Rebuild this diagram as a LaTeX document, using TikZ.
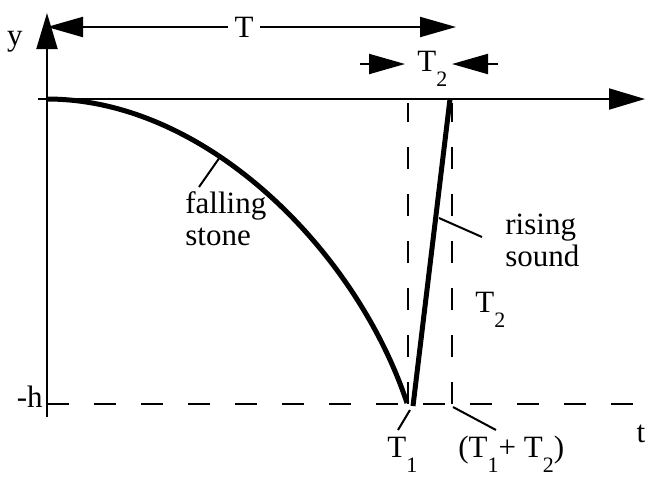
\documentclass[tikz,border=0pt]{standalone}
\usepackage{fontspec}
\setmainfont{Liberation Serif}
\usetikzlibrary{arrows.meta}
\newcommand{\lowsub}[1]{\raisebox{-7.5pt}{\fontsize{11}{11}\selectfont #1}}
\tikzset{
  axisline/.style = {line width=1pt, -{Triangle[length=18pt,width=10.5pt]}},
  dim/.style      = {line width=1pt, -{Triangle[length=18pt,width=10pt]}},
  guide/.style    = {line width=1pt, dash pattern=on 11pt off 12.5pt},
  motion/.style   = {line width=2.5pt},
  leader/.style   = {line width=1pt},
  lbl/.style      = {inner sep=0pt},
}

\begin{document}
\begin{tikzpicture}[x=0.5pt, y=-0.5pt, font=\fontsize{15.5}{16}\selectfont]
\useasboundingbox (0,0) rectangle (648,479);
% ---- reference points ----
\coordinate (O)        at (47,99);
\coordinate (ytop)     at (47,13);
\coordinate (ybot)     at (47,417);
\coordinate (tleft)    at (38,99);
\coordinate (tend)     at (645,99);
\coordinate (hleft)    at (47,404);
\coordinate (hright)   at (640,404);
\coordinate (T1)       at (408,404);
\coordinate (T1top)    at (408,103);
\coordinate (T12)      at (452,404);
\coordinate (T12top)   at (452,103);
\coordinate (impact)   at (407,403);
\coordinate (soundbot) at (413,406);
\coordinate (soundtop) at (450,99);
% ---- axes ----
\draw[axisline] (ybot) -- (ytop);
\draw[axisline] (tleft) -- (tend);
% ---- dashed guides ----
\draw[guide] (hleft) -- (hright);
\draw[guide] (T1) -- (T1top);
\draw[guide] (T12) -- (T12top);
% ---- stone and sound ----
\draw[motion] (O) .. controls (207,99) and (357,252) .. (impact);
\draw[motion] (soundbot) -- (soundtop);
% ---- time spans ----
\node[lbl, fill=white, inner xsep=3pt] (Tlab) at (244,27) {T};
\coordinate (Tl) at (47,27);
\coordinate (Tr) at (456,27);
\draw[dim] (Tlab.west) -- (Tl);
\draw[dim] (Tlab.east) -- (Tr);
\node[lbl, anchor=base west] (T2top) at (417,71) {T\lowsub{2}};
\coordinate (T2la) at (360,64);
\coordinate (T2lb) at (405,64);
\coordinate (T2ra) at (498,64);
\coordinate (T2rb) at (452,64);
\draw[dim] (T2la) -- (T2lb);
\draw[dim] (T2ra) -- (T2rb);
% ---- labels ----
\node[lbl] (ylab) at (15,42) {y};
\node[lbl, anchor=base east] (hlab) at (43,407) {-h};
\node[lbl, anchor=base] (tlab) at (641,442) {t};
\node[lbl, anchor=base west] (T1lab) at (387,457) {T\lowsub{1}};
\node[lbl, anchor=base west] (sumlab) at (458,457) {(T\lowsub{1}+ T\lowsub{2})};
\node[lbl, anchor=base west] (T2lab) at (475,312) {T\lowsub{2}};
\node[lbl, anchor=north west, align=left] (stonelab) at (185,191) {falling\\stone};
\node[lbl, anchor=north west, align=left] (soundlab) at (505,214) {rising\\sound};
% ---- leaders ----
\coordinate (stoneA) at (220,157);
\coordinate (stoneB) at (199,187);
\coordinate (soundA) at (439,218);
\coordinate (soundB) at (482,237);
\coordinate (T1A)    at (410,410);
\coordinate (T1B)    at (398,430);
\coordinate (sumA)   at (453,407);
\coordinate (sumB)   at (496,430);
\draw[leader] (stoneA) -- (stoneB);
\draw[leader] (soundA) -- (soundB);
\draw[leader] (T1A) -- (T1B);
\draw[leader] (sumA) -- (sumB);
\end{tikzpicture}
\end{document}
